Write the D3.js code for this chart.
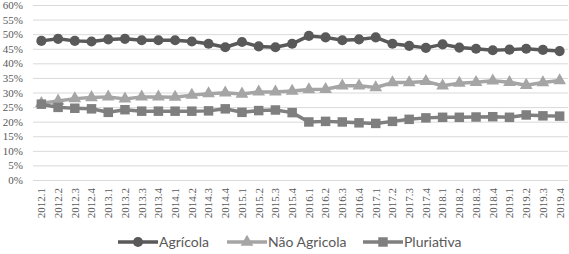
<!DOCTYPE html>
<html lang="pt">
<head>
    <meta charset="UTF-8">
    <title>Ocupação</title>
    <script src="https://d3js.org/d3.v7.min.js"></script>
    <style>
        body{ margin:0; background:#fff; }
        .axis text{ font-family: "Liberation Serif", "Times New Roman", serif; font-size: 11px; fill:#595959; }
        .legend text{ font-family: Lato, "Open Sans", sans-serif; font-size: 14px; fill:#595959; }
    </style>
</head>
<body>
<svg width="569" height="254"></svg>
<script>
    // quarters and series (% of occupied)
    const quarters = ["2012.1","2012.2","2012.3","2012.4","2013.1","2013.2","2013.3","2013.4",
        "2014.1","2014.2","2014.3","2014.4","2015.1","2015.2","2015.3","2015.4",
        "2016.1","2016.2","2016.3","2016.4","2017.1","2017.2","2017.3","2017.4",
        "2018.1","2018.2","2018.3","2018.4","2019.1","2019.2","2019.3","2019.4"];
    const agricola = [47.7,48.4,47.7,47.5,48.2,48.4,47.9,47.9,47.9,47.5,46.7,45.5,47.3,45.8,45.5,46.7,
        49.4,48.9,47.9,48.2,48.9,46.7,46.0,45.3,46.5,45.4,45.0,44.5,44.7,45.0,44.6,44.2];
    const naoAgricola = [26.3,27.1,27.9,28.3,28.5,27.8,28.5,28.5,28.4,29.1,29.6,29.9,29.5,30.2,30.2,30.5,
        31.0,31.1,32.3,32.3,31.7,33.4,33.4,33.8,32.3,33.2,33.5,34.0,33.5,32.5,33.4,34.1];
    const pluriativa = [26.0,24.9,24.6,24.4,23.2,24.1,23.6,23.6,23.6,23.6,23.7,24.4,23.2,23.8,24.0,23.1,
        19.9,20.1,19.9,19.6,19.4,20.1,20.8,21.3,21.5,21.5,21.6,21.7,21.5,22.3,22.0,21.9];
    const yTicks = [0,5,10,15,20,25,30,35,40,45,50,55,60];

    const series = [
        {name:"Agrícola", values:agricola, color:"#595959", shape:d3.symbolCircle, size:80},
        {name:"Não Agricola", values:naoAgricola, color:"#A5A5A5", shape:d3.symbolTriangle, size:70},
        {name:"Pluriativa", values:pluriativa, color:"#7F7F7F", shape:d3.symbolSquare, size:90}
    ];

    const svg = d3.select("svg");
    const plotLeft = 33, plotRight = 568, plotTop = 5, plotBottom = 180;

    let x = d3.scaleBand().domain(quarters).range([plotLeft, plotRight]);
    let y = d3.scaleLinear().domain([0, 60]).range([plotBottom, plotTop]);

    // grid + y labels
    let yAxis = svg.append("g")
        .attr("class", "axis")
        .attr("transform", `translate(${plotLeft},0)`)
        .call(d3.axisLeft(y).tickValues(yTicks).tickFormat(d => d + "%").tickSize(-(plotRight - plotLeft)).tickPadding(10));
    yAxis.select(".domain").remove();
    yAxis.selectAll(".tick line").attr("stroke", "#d9d9d9").attr("stroke-width", 1);

    // x labels
    let xAxis = svg.append("g")
        .attr("class", "axis")
        .attr("transform", `translate(0,${plotBottom})`)
        .call(d3.axisBottom(x).tickSize(0));
    xAxis.select(".domain").remove();
    xAxis.selectAll("text")
        .attr("transform", "rotate(-90)")
        .attr("text-anchor", "end")
        .attr("dy", "0.35em")
        .attr("x", -8)
        .attr("y", 0);

    let line = d3.line().x((d, i) => x(quarters[i]) + x.bandwidth() / 2).y(d => y(d));

    series.forEach(s => {
        let g = svg.append("g");
        g.append("path")
            .attr("d", line(s.values))
            .attr("fill", "none")
            .attr("stroke", s.color)
            .attr("stroke-width", 3.5)
            .attr("stroke-linejoin", "round");
        g.selectAll("path.pt")
            .data(s.values)
            .enter().append("path")
            .attr("class", "pt")
            .attr("d", d3.symbol().type(s.shape).size(s.size))
            .attr("transform", (d, i) => `translate(${x(quarters[i]) + x.bandwidth() / 2},${y(d)})`)
            .attr("fill", s.color);
    });

    // legend
    const legendX = [118, 227, 363];
    let legend = svg.append("g").attr("class", "legend");
    series.forEach((s, i) => {
        let g = legend.append("g").attr("transform", `translate(${legendX[i]},242)`);
        g.append("line").attr("x1", 0).attr("x2", 40).attr("y1", 0).attr("y2", 0)
            .attr("stroke", s.color).attr("stroke-width", 3.5);
        g.append("path").attr("d", d3.symbol().type(s.shape).size(s.size))
            .attr("transform", "translate(20,0)").attr("fill", s.color);
        g.append("text").attr("x", 41).attr("y", 0).attr("dy", "0.35em").text(s.name);
    });
</script>
</body>
</html>
